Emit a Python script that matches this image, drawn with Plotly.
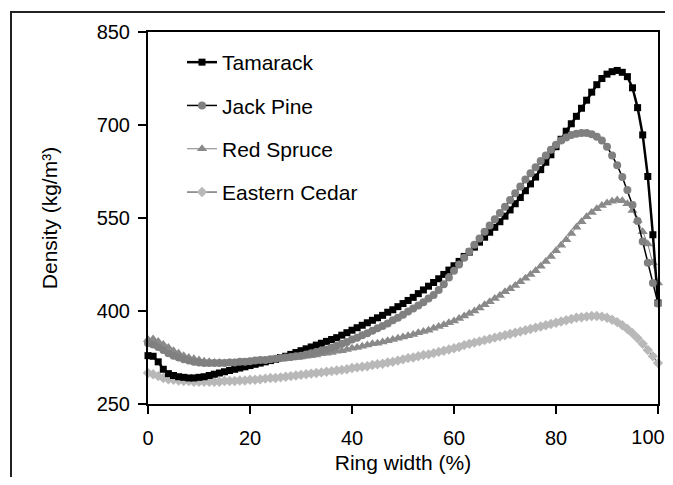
import plotly.graph_objects as go

ring_width = list(range(0, 101))

tamarack = [
    328, 327, 318, 306, 299, 296, 294, 293, 292, 292, 293,
    294, 296, 298, 300, 302, 304, 306, 308, 310, 312,
    314, 316, 318, 320, 322, 325, 327, 330, 333, 336,
    339, 342, 345, 348, 351, 354, 357, 361, 365, 369,
    373, 377, 381, 385, 389, 393, 398, 402, 407, 412,
    417, 422, 428, 434, 440, 446, 452, 459, 466, 473,
    480, 488, 495, 503, 511, 519, 527, 535, 544, 553,
    563, 573, 583, 594, 605, 616, 628, 640, 652, 665,
    677, 690, 702, 714, 727, 740, 753, 765, 775, 782,
    786, 788, 785, 778, 760, 728, 684, 617, 523, 413,
]

jack_pine = [
    348, 346, 342, 337, 332, 328, 325, 322, 320, 318, 317,
    316, 316, 316, 316, 316, 317, 317, 318, 318, 319,
    320, 321, 321, 322, 323, 324, 325, 326, 327, 328,
    330, 332, 334, 336, 338, 341, 344, 347, 350, 354,
    357, 361, 364, 368, 372, 376, 380, 385, 389, 394,
    399, 404, 409, 414, 420, 426, 434, 443, 454, 465,
    475, 486, 496, 507, 517, 528, 538, 548, 558, 568,
    579, 590, 601, 612, 622, 632, 642, 651, 660, 668,
    675, 680, 684, 686, 687, 687, 685, 681, 675, 665,
    651, 635, 616, 595, 571, 545, 512, 478, 445, 412,
]

red_spruce = [
    354, 355, 351, 346, 341, 336, 332, 328, 325, 323, 321,
    319, 318, 317, 317, 316, 316, 316, 317, 317, 318,
    318, 319, 320, 320, 321, 322, 323, 324, 325, 326,
    327, 328, 329, 331, 332, 333, 335, 336, 338, 340,
    341, 343, 345, 347, 348, 350, 352, 354, 356, 358,
    360, 362, 365, 367, 369, 372, 375, 378, 381, 384,
    388, 392, 396, 400, 405, 410, 415, 420, 425, 431,
    436, 441, 447, 453, 459, 465, 472, 480, 488, 497,
    506, 515, 525, 535, 544, 552, 559, 565, 570, 574,
    577, 579, 578, 573, 562, 546, 528, 508, 478, 445,
]

eastern_cedar = [
    300, 298, 295, 292, 290, 289, 288, 287, 287, 286, 286,
    286, 286, 286, 286, 287, 287, 287, 288, 288, 289,
    289, 290, 291, 292, 292, 293, 294, 295, 296, 297,
    298, 299, 300, 301, 302, 303, 304, 305, 306, 308,
    309, 310, 311, 313, 314, 315, 317, 318, 320, 322,
    324, 325, 327, 329, 330, 332, 334, 336, 338, 340,
    342, 345, 347, 349, 351, 353, 355, 357, 359, 361,
    363, 365, 367, 369, 371, 373, 375, 377, 379, 381,
    383, 385, 387, 389, 390, 391, 392, 392, 391, 389,
    386, 382, 377, 371, 364, 356, 347, 337, 327, 316,
]

x_ticks = [0, 20, 40, 60, 80, 100]
x_tick_labels = ["0", "20", "40", "60", "80", ""]
x_edge_tick = [100]
x_edge_label = ["100"]
y_ticks = [250, 400, 550, 700, 850]

FONT = "Arial, Liberation Sans, sans-serif"

fig = go.Figure()

# drawn bottom-up; legendrank keeps the reference legend order
fig.add_trace(go.Scatter(
    x=ring_width[:len(red_spruce)], y=red_spruce, name="Red Spruce", mode="lines+markers",
    line=dict(color="#7f7f7f", width=1),
    marker=dict(symbol="triangle-up", size=9, color="#8a8a8a"),
    cliponaxis=False, legendrank=3, legendgroup="c"))
fig.add_trace(go.Scatter(
    x=ring_width, y=eastern_cedar, name="Eastern Cedar", mode="lines+markers",
    line=dict(color="#333333", width=1),
    marker=dict(symbol="diamond", size=8, color="#b8b8b8"),
    cliponaxis=False, legendrank=4, legendgroup="d"))
fig.add_trace(go.Scatter(
    x=ring_width, y=tamarack, name="Tamarack", mode="lines+markers",
    line=dict(color="#000000", width=2.5),
    marker=dict(symbol="square", size=7, color="#000000"),
    cliponaxis=False, legendrank=1, legendgroup="a"))
# top-most series sits on the overlaying x-axis (same 0-100 range)
fig.add_trace(go.Scatter(
    x=ring_width, y=jack_pine, name="Jack Pine", mode="lines+markers",
    xaxis="x2", yaxis="y",
    line=dict(color="#000000", width=1.5),
    marker=dict(symbol="circle", size=8, color="#808080"),
    cliponaxis=False, legendrank=2, legendgroup="b"))

# outer frame
fig.add_shape(type="rect", xref="paper", yref="paper",
              x0=-137 / 510, x1=1.05, y0=-0.26, y1=392 / 372,
              line=dict(color="#222222", width=2), layer="below")

fig.update_layout(
    width=673, height=469,
    margin=dict(l=140, r=23, t=24, b=73, autoexpand=False),
    paper_bgcolor="white", plot_bgcolor="white",
    font=dict(family=FONT, size=20, color="black"),
    showlegend=True,
    legend=dict(x=(182 - 148) / 510, y=(404 - 42) / 372, xanchor="left", yanchor="top",
                bgcolor="rgba(0,0,0,0)", font=dict(size=21),
                tracegroupgap=13, traceorder="grouped"),
    xaxis=dict(range=[0, 100], tickvals=x_ticks, ticktext=x_tick_labels,
               showgrid=False, zeroline=False, showline=True, linecolor="black",
               linewidth=2, mirror=True, ticks="outside", ticklen=8, tickwidth=2,
               tickcolor="black", tickfont=dict(size=20), ticklabelstandoff=7,
               ticklabeloverflow="allow", automargin=False,
               title=dict(text="Ring width (%)", font=dict(size=21), standoff=7)),
    # the edge label "100", nudged left so it stays inside the page
    xaxis2=dict(overlaying="x", anchor="y", side="bottom", range=[0, 100],
                tickvals=x_edge_tick, ticktext=x_edge_label,
                showgrid=False, zeroline=False, showline=False,
                ticks="outside", ticklen=8, tickwidth=2, tickcolor="rgba(0,0,0,0)",
                tickfont=dict(size=20), ticklabelstandoff=7, ticklabelshift=-10,
                ticklabeloverflow="allow", automargin=False),
    yaxis=dict(range=[250, 850], tickvals=y_ticks, ticktext=[str(v) for v in y_ticks],
               showgrid=False, zeroline=False, showline=True, linecolor="black",
               linewidth=2, mirror=True, ticks="outside", ticklen=8, tickwidth=2,
               tickcolor="black", tickfont=dict(size=20), ticklabelstandoff=4,
               automargin=False,
               title=dict(text="Density (kg/m³)", font=dict(size=21), standoff=33)),
)

fig.write_html("out.html")
